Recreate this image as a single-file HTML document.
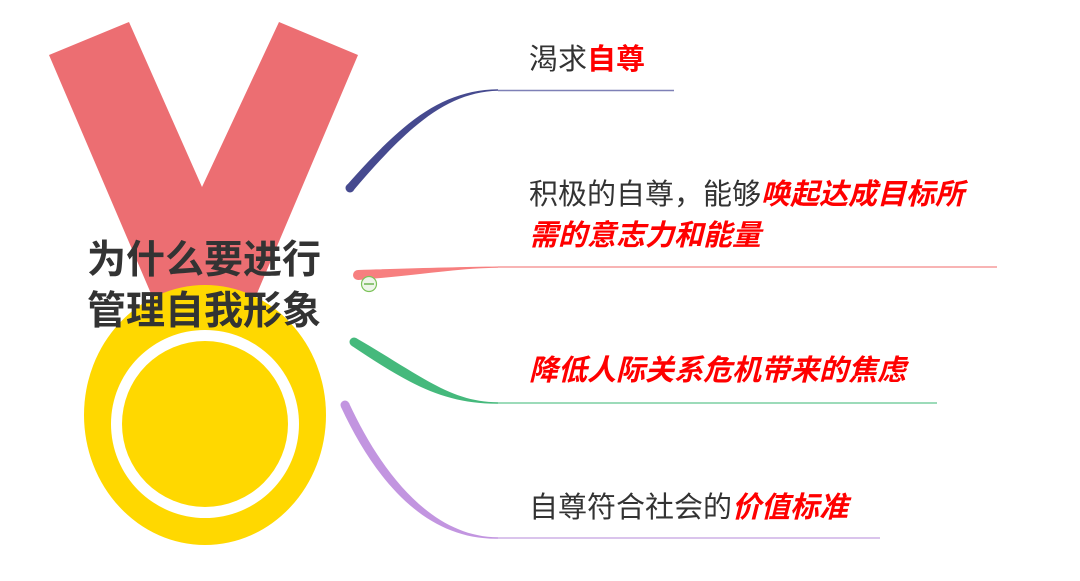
<!DOCTYPE html>
<html><head><meta charset="utf-8"><style>
html,body{margin:0;padding:0;background:#fff}
body{width:1080px;height:581px;position:relative;overflow:hidden;font-family:"Liberation Sans","Noto Sans CJK SC",sans-serif}
.t{position:absolute;font-size:29px;color:#333;white-space:nowrap;line-height:1}
.r{color:#ff0000;font-weight:bold;font-style:italic}
.title{position:absolute;left:87px;top:235px;font-size:39px;font-weight:bold;color:#333;line-height:51px;white-space:nowrap}
</style></head><body>
<svg width="1080" height="581" style="position:absolute;left:0;top:0">
<polygon points="49,55 129,22 202,187 279,22 358,55 250,310 158,310" fill="#ec6e72"/>
<ellipse cx="205" cy="415" rx="121" ry="130" fill="#ffd800"/>
<circle cx="205" cy="424" r="94" fill="#fff"/>
<circle cx="205" cy="424" r="83" fill="#ffd800"/>
<!-- blue -->
<path d="M347,185 C400,125 440,90 498,89.3 L498,90.7 C445,92 405,130 353,191 Z" fill="#464a8f"/>
<circle cx="350" cy="188" r="4.5" fill="#464a8f"/>
<line x1="498" y1="90.5" x2="674" y2="90.5" stroke="#7e80b6" stroke-width="1.5"/>
<!-- red -->
<path d="M358,270 C420,268 460,267 498,266.5 L498,267.7 C460,268 420,275 358,280 Z" fill="#f77f7f"/>
<circle cx="358" cy="275" r="5" fill="#f77f7f"/>
<line x1="498" y1="267" x2="997" y2="267" stroke="#f59c9c" stroke-width="1.5"/>
<circle cx="369" cy="284" r="7.5" fill="#eef5ea" stroke="#7cc35a" stroke-width="1.2"/>
<line x1="364" y1="284" x2="374" y2="284" stroke="#5aab3a" stroke-width="1.3"/>
<!-- green -->
<path d="M356,338 C420,375 450,402 498,402.3 L498,403.7 C445,404 410,385 352,346 Z" fill="#45b97c"/>
<circle cx="354" cy="342" r="4.5" fill="#45b97c"/>
<line x1="498" y1="403" x2="937" y2="403" stroke="#7ccfa2" stroke-width="1.5"/>
<!-- purple -->
<path d="M349,403 C380,470 430,537 498,537.3 L498,538.7 C425,540 375,480 341,407 Z" fill="#c295e0"/>
<circle cx="345" cy="405" r="4.5" fill="#c295e0"/>
<line x1="498" y1="538" x2="880" y2="538" stroke="#cdb0e6" stroke-width="1.5"/>
</svg>
<div class="title">为什么要进行<br>管理自我形象</div>
<div class="t" style="left:529px;top:46px">渴求<span style="color:#f00;font-weight:bold">自尊</span></div>
<div class="t" style="left:529px;top:181px">积极的自尊，能够<span class="r">唤起达成目标所</span></div>
<div class="t" style="left:529px;top:222px"><span class="r">需的意志力和能量</span></div>
<div class="t" style="left:529px;top:357px"><span class="r">降低人际关系危机带来的焦虑</span></div>
<div class="t" style="left:529px;top:494px">自尊符合社会的<span class="r">价值标准</span></div>
</body></html>
